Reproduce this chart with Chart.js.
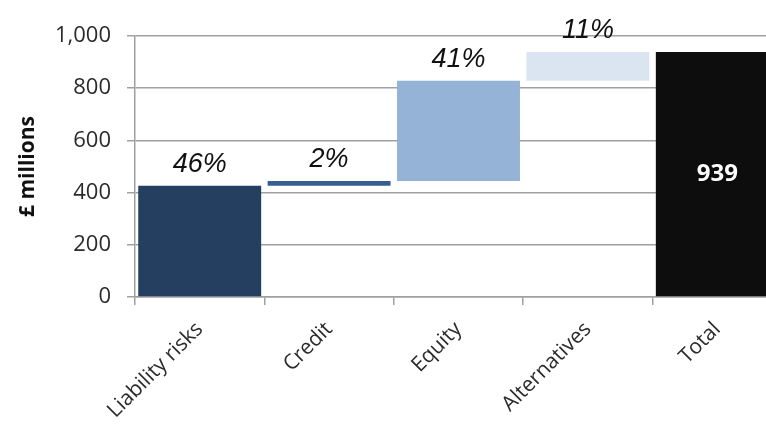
<!DOCTYPE html>
<html>
<head>
<meta charset="utf-8">
<script src="https://cdn.jsdelivr.net/npm/chart.js@4/dist/chart.umd.min.js"></script>
<style>
  html, body { margin: 0; padding: 0; background: #fff; overflow: hidden; }
  #wrap { width: 790px; height: 427px; position: relative; }
</style>
</head>
<body>
<div id="wrap"><canvas id="riskChart"></canvas></div>
<script>
// categories and contributions (£ millions)
const categories = ['Liability risks', 'Credit', 'Equity', 'Alternatives', 'Total'];
const contributions = [426, 18, 385, 110];
const totalValue = 939;
const shareLabels = ['46%', '2%', '41%', '11%'];
const barColours = ['#243f60', '#365f91', '#95b3d7', '#dbe5f1', '#0d0d0d'];
const yTicks = [0, 200, 400, 600, 800, 1000];

// floating bars for the waterfall
let running = 0;
const floating = contributions.map(v => {
    const bar = [running, running + v];
    running += v;
    return bar;
});
floating.push([0, totalValue]);

const barLabels = {
    id: 'barLabels',
    afterDatasetsDraw(chart) {
        const ctx = chart.ctx;
        const meta = chart.getDatasetMeta(0);
        ctx.save();
        ctx.textAlign = 'center';
        meta.data.forEach((bar, i) => {
            if (i < shareLabels.length) {
                ctx.font = 'italic 27px "Liberation Sans", Arial, sans-serif';
                ctx.fillStyle = '#111';
                ctx.textBaseline = 'alphabetic';
                ctx.fillText(shareLabels[i], bar.x, bar.y - 14);
            } else {
                ctx.font = 'bold 24px "Open Sans", sans-serif';
                ctx.fillStyle = '#fff';
                ctx.textBaseline = 'middle';
                ctx.fillText(String(totalValue), bar.x, (bar.y + bar.base) / 2);
            }
        });
        ctx.restore();
    }
};

const ctx = document.getElementById('riskChart').getContext('2d');
const riskChart = new Chart(ctx, {
    type: 'bar',
    data: {
        labels: categories,
        datasets: [{
            data: floating,
            backgroundColor: barColours,
            borderWidth: 0,
            borderSkipped: false,
            barPercentage: 0.95,
            categoryPercentage: 1.0
        }]
    },
    options: {
        responsive: true,
        maintainAspectRatio: false,
        animation: false,
        layout: { padding: { top: 36, right: 8, left: 0, bottom: 0 } },
        plugins: {
            legend: { display: false },
            tooltip: { enabled: false }
        },
        scales: {
            y: {
                min: 0,
                max: 1000,
                afterFit(scale) { scale.width = 135; },
                afterBuildTicks(scale) { scale.ticks = yTicks.map(v => ({ value: v })); },
                border: { color: '#a0a0a0', width: 1.5 },
                grid: { color: '#a0a0a0', lineWidth: 1.5, tickLength: 8 },
                ticks: {
                    padding: 16,
                    color: '#2b2b2b',
                    font: { family: '"Open Sans", sans-serif', size: 22 }
                },
                title: {
                    display: true,
                    text: '£ millions',
                    color: '#111',
                    padding: { top: 15, bottom: 0 },
                    font: { family: '"Open Sans", sans-serif', size: 21, weight: 'bold' }
                }
            },
            x: {
                afterFit(scale) { scale.height = 130; },
                border: { color: '#a0a0a0', width: 1.5 },
                grid: { drawOnChartArea: false, color: '#a0a0a0', lineWidth: 1.5, tickLength: 8, offset: true },
                ticks: {
                    minRotation: 45,
                    maxRotation: 45,
                    padding: 12,
                    color: '#2b2b2b',
                    font: { family: '"Open Sans", sans-serif', size: 21 }
                }
            }
        }
    },
    plugins: [barLabels]
});
</script>
</body>
</html>
